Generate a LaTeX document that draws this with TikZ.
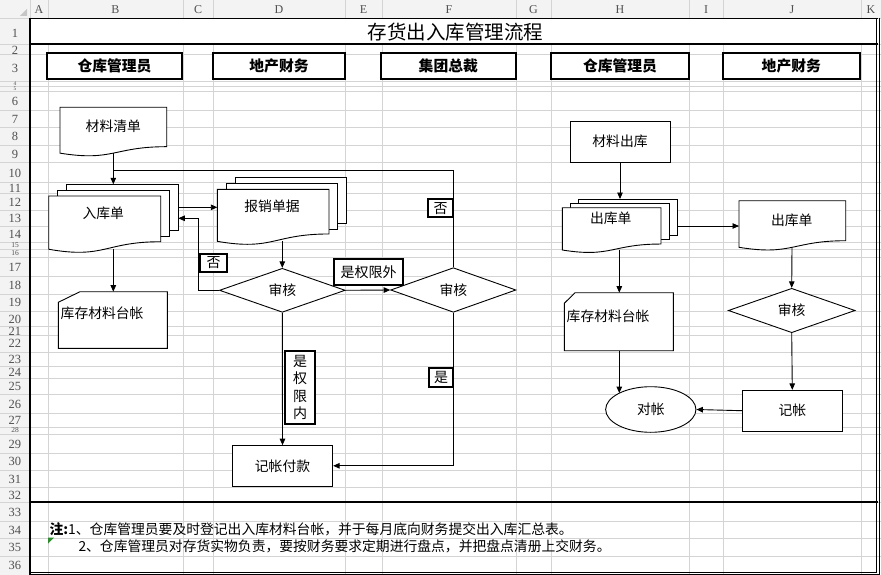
\documentclass[tikz,border=0pt]{standalone}
\usepackage{fontspec}
\setmainfont{Noto Sans CJK SC}
\newfontfamily\hdrfont{Liberation Serif}
\usetikzlibrary{shapes.geometric,arrows.meta}
\definecolor{gridc}{HTML}{D4D4D4}
\definecolor{hdrbg}{HTML}{F3F3F3}
\definecolor{hdrtxt}{HTML}{505050}
\definecolor{xlgreen}{HTML}{2E8B2E}
\tikzset{
  gridline/.style={draw=gridc, line width=0.7pt},
  shp/.style={draw=black, line width=0.9pt, fill=white},
  txt/.style={font=\fontsize{13.8}{16}\selectfont, inner sep=0pt},
  rolebox/.style={draw=black, line width=2pt, fill=white, inner sep=0pt, font=\fontsize{14.8}{17}\selectfont\bfseries},
  lbl/.style={draw=black, line width=1.8pt, fill=white, inner sep=0pt, align=center, font=\fontsize{14}{17.6}\selectfont},
  arr/.style={draw=black, line width=0.9pt, -{Triangle[length=6.5pt,width=5.5pt]}},
  conn/.style={draw=black, line width=0.9pt},
  dia/.style={diamond, shp, inner sep=0pt, font=\fontsize{13.8}{16}\selectfont},
  rectbox/.style={rectangle, shp, inner sep=0pt, font=\fontsize{13.8}{16}\selectfont},
  colhdr/.style={font=\hdrfont\fontsize{12}{12}\selectfont, text=hdrtxt, inner sep=0pt},
  rowhdr/.style={font=\hdrfont\fontsize{12.5}{12}\selectfont, text=hdrtxt, inner sep=0pt},
  rowhdrsmall/.style={font=\hdrfont\fontsize{7.5}{8}\selectfont, text=hdrtxt, inner sep=0pt},
  rowhdrtiny/.style={font=\hdrfont\fontsize{5.5}{6}\selectfont, text=hdrtxt, inner sep=0pt},
  frameline/.style={draw=black, line width=1.2pt}
}
\newcommand{\docshape}[4]{%
  \draw[shp] (#1,#3) -- (#2,#3) -- (#2,{#3+0.802*#4})
    .. controls ({0.5*(#1+#2)},{#3+0.802*#4}) and ({0.5*(#1+#2)},{#3+1.108*#4}) ..
    (#1,{#3+0.934*#4}) -- cycle;}
\newcommand{\cardshape}[6]{% x1 x2 top bottom cutx cuty
  \draw[shp] (#5,#3) -- (#2,#3) -- (#2,#4) -- (#1,#4) -- (#1,#6) -- cycle;}
\begin{document}
\begin{tikzpicture}[x=1pt,y=-1pt]
\useasboundingbox (0,0) rectangle (881,575);
\fill[white] (0,0) rectangle (881,575);
% headers background
\fill[hdrbg] (0,0) rectangle (881,18);
\fill[hdrbg] (0,0) rectangle (30,575);
\fill[gray!45] (27,9) -- (27,16) -- (20,16) -- cycle;
% grid
\foreach \y in {18,44,54,81,86,91,110,127,145,162,182,193,210,226,242,249,257,276,294,311,326,335,352,366,378,394,413,427,434,453,470,487,502,521,538,556}
  \draw[gridline] (0,\y) -- (881,\y);
\foreach \x in {48,183,213,345,382,516,551,689,723,861}{
  \draw[gridline] (\x,0) -- (\x,18);
  \draw[gridline] (\x,44) -- (\x,575);
}
\draw[gridline] (30,0) -- (30,18);
% column letters
\foreach \c/\x in {A/39,B/115.5,C/198,D/279,E/363.5,F/449,G/533.5,H/620,I/706,J/792,K/871}
  \node[colhdr] (col\c) at (\x,9.5) {\c};
% row numbers
\foreach \n/\y in {1/33,2/50,3/68,6/101,7/119,8/136,9/154,10/173,11/188,12/202,13/218,14/234,17/267,18/285,19/302,20/319,21/331,22/343,23/359,24/372,25/386,26/404,27/420,29/444,30/461,31/479,32/495,33/512,34/530,35/547,36/565}
  \node[rowhdr] (r\n) at (15,\y) {\n};
\foreach \n/\y in {15/245.5,16/253,28/430.5}
  \node[rowhdrsmall] (r\n) at (15,\y) {\n};
\foreach \n/\y in {4/83.3,5/88.9}
  \node[rowhdrtiny] (r\n) at (15,\y) {\n};
% frame
\draw[frameline] (30,18.5) -- (877.5,18.5);
\draw[frameline] (30,18) -- (30,575);
\draw[draw=black, line width=2pt] (30,44) -- (878,44);
\draw[frameline] (30,502) -- (878,502);
\draw[draw=black, line width=0.9pt] (876.7,18) -- (876.7,572.3) -- (30,572.3);
\draw[draw=black, line width=0.9pt] (879.2,18) -- (879.2,574.6) -- (30,574.6);
% title
\node[font=\fontsize{19.5}{22}\selectfont, inner sep=0pt] (title) at (455.3,32.5) {存货出入库管理流程};
% role boxes
\node[rolebox, minimum width=135.6pt, minimum height=25.7pt] (roleB) at (114.5,66.2) {仓库管理员};
\node[rolebox, minimum width=132pt, minimum height=25.7pt] (roleD) at (279,66.2) {地产财务};
\node[rolebox, minimum width=134.7pt, minimum height=25.7pt] (roleF) at (448.3,66.2) {集团总裁};
\node[rolebox, minimum width=138pt, minimum height=25.7pt] (roleH) at (620,66.2) {仓库管理员};
\node[rolebox, minimum width=137.3pt, minimum height=25.7pt] (roleJ) at (791.3,66.2) {地产财务};

% ---------- left column shapes
\docshape{60}{166.7}{107.3}{49.1}
\node[txt] (clqd) at (113.3,126.7) {材料清单};
% 入库单 stack
\draw[shp] (66,184.3) rectangle (178.3,230);
\draw[shp] (57.3,190) rectangle (169.3,236);
\docshape{48.7}{160.7}{196}{57}
\node[txt] (rkd) at (103.3,213.3) {入库单};
% 库存材料台帐 left
\cardshape{58.3}{167.3}{291.7}{348.3}{80}{302.3}
\node[txt, anchor=west] (kcL) at (60.5,313.3) {库存材料台帐};
% 报销单据 stack
\draw[shp] (235.7,177.7) rectangle (346.7,223.3);
\draw[shp] (226.7,183.3) rectangle (337.3,229);
\docshape{217.3}{329}{189.3}{55.7}
\node[txt] (bxdj) at (272,206.7) {报销单据};
% diamonds
\node[dia, minimum width=125.7pt, minimum height=44pt] (d1) at (282.3,290.3) {审核};
\node[dia, minimum width=125.3pt, minimum height=44.6pt] (d2) at (453.3,290) {审核};
% 记帐付款
\node[rectbox, minimum width=100.4pt, minimum height=40.3pt] (jzfk) at (282.5,465.8) {记帐付款};

% ---------- right side shapes
\node[rectbox, minimum width=100pt, minimum height=41.3pt] (clck) at (620,141.7) {材料出库};
\draw[shp] (578.3,199) rectangle (677.3,235);
\draw[shp] (570.7,203.3) rectangle (669,239.3);
\docshape{562.3}{661}{207.7}{45.3}
\node[txt] (ckdH) at (610.7,218.3) {出库单};
\docshape{739}{845.7}{200.7}{49.9}
\node[txt] (ckdJ) at (791.7,220) {出库单};
\node[dia, minimum width=126.7pt, minimum height=44.4pt] (d3) at (791.7,310.5) {审核};
\node[rectbox, minimum width=100pt, minimum height=40.7pt] (jz) at (792.3,410.7) {记帐};
\node[ellipse, shp, inner sep=0pt, minimum width=90.3pt, minimum height=45.6pt, font=\fontsize{13.8}{16}\selectfont] (dz) at (650.8,409.5) {对帐};
\cardshape{564.3}{673.3}{292.7}{350.7}{575}{303.3}
\node[txt, anchor=west] (kcR) at (566.5,316) {库存材料台帐};

% ---------- connector end points
\coordinate (clqdB) at (113.3,153.1);
\coordinate (rkdT) at (113.3,184.3);
\coordinate (loopE) at (113.3,170);
\coordinate (rkdR1) at (178.3,207.3);
\coordinate (bxdjL) at (217.3,207.3);
\coordinate (retC) at (198.7,218.3);
\coordinate (rkdR2) at (178.3,218.3);
\coordinate (rkdB) at (113.3,249);
\coordinate (kcLT) at (113.3,291.7);
\coordinate (bxdjB) at (282.3,241.1);
\coordinate (ckdHT) at (620,199);
\coordinate (ckdHB) at (619.3,249.8);
\coordinate (kcRT) at (619.3,292.7);
\coordinate (ckdHR) at (677.3,226);
\coordinate (ckdJL) at (739,226);
\coordinate (ckdJB) at (792,247.3);
\coordinate (kcRB) at (619.3,350.7);
\coordinate (dzT) at (619.3,393.1);

% ---------- connectors
\draw[arr] (clqdB) -- (rkdT);
\draw[conn] (d2.north) |- (loopE);
\draw[arr] (rkdR1) -- (bxdjL);
\draw[arr] (d1.west) -| (retC) -- (rkdR2);
\draw[arr] (rkdB) -- (kcLT);
\draw[arr] (bxdjB) -- (d1.north);
\draw[arr] (d1.east) -- (d2.west);
\draw[arr] (d1.south) -- (jzfk.north);
\draw[arr] (d2.south) |- (jzfk.east);
\draw[arr] (clck.south) -- (ckdHT);
\draw[arr] (ckdHB) -- (kcRT);
\draw[arr] (ckdHR) -- (ckdJL);
\draw[arr] (ckdJB) -- (d3.north);
\draw[arr] (d3.south) -- (jz.north);
\draw[arr] (jz.west) -- (dz.east);
\draw[arr] (kcRB) -- (dzT);

% ---------- labels
\node[lbl, minimum width=25.6pt, minimum height=18.3pt] (noTop) at (440.5,208.2) {否};
\node[lbl, minimum width=27pt, minimum height=18.3pt] (noLeft) at (213.7,263) {否};
\node[lbl, minimum width=68.4pt, minimum height=25.7pt] (outAuth) at (368.5,272.2) {是权限外};
\node[lbl, minimum width=24.6pt, minimum height=19pt] (yes) at (441,377.8) {是};
\node[lbl, minimum width=30pt, minimum height=73.6pt] (inAuth) at (300,387.5) {是\\权\\限\\内};

% ---------- notes
\fill[xlgreen] (48,537.5) -- (54,537.5) -- (48,543.5) -- cycle;
\node[txt, anchor=west] (note1) at (49.4,529) {\textbf{注:}1、仓库管理员要及时登记出入库材料台帐，并于每月底向财务提交出入库汇总表。};
\node[txt, anchor=west] (note2) at (78.3,546) {2、仓库管理员对存货实物负责，要按财务要求定期进行盘点，并把盘点清册上交财务。};
\end{tikzpicture}
\end{document}
